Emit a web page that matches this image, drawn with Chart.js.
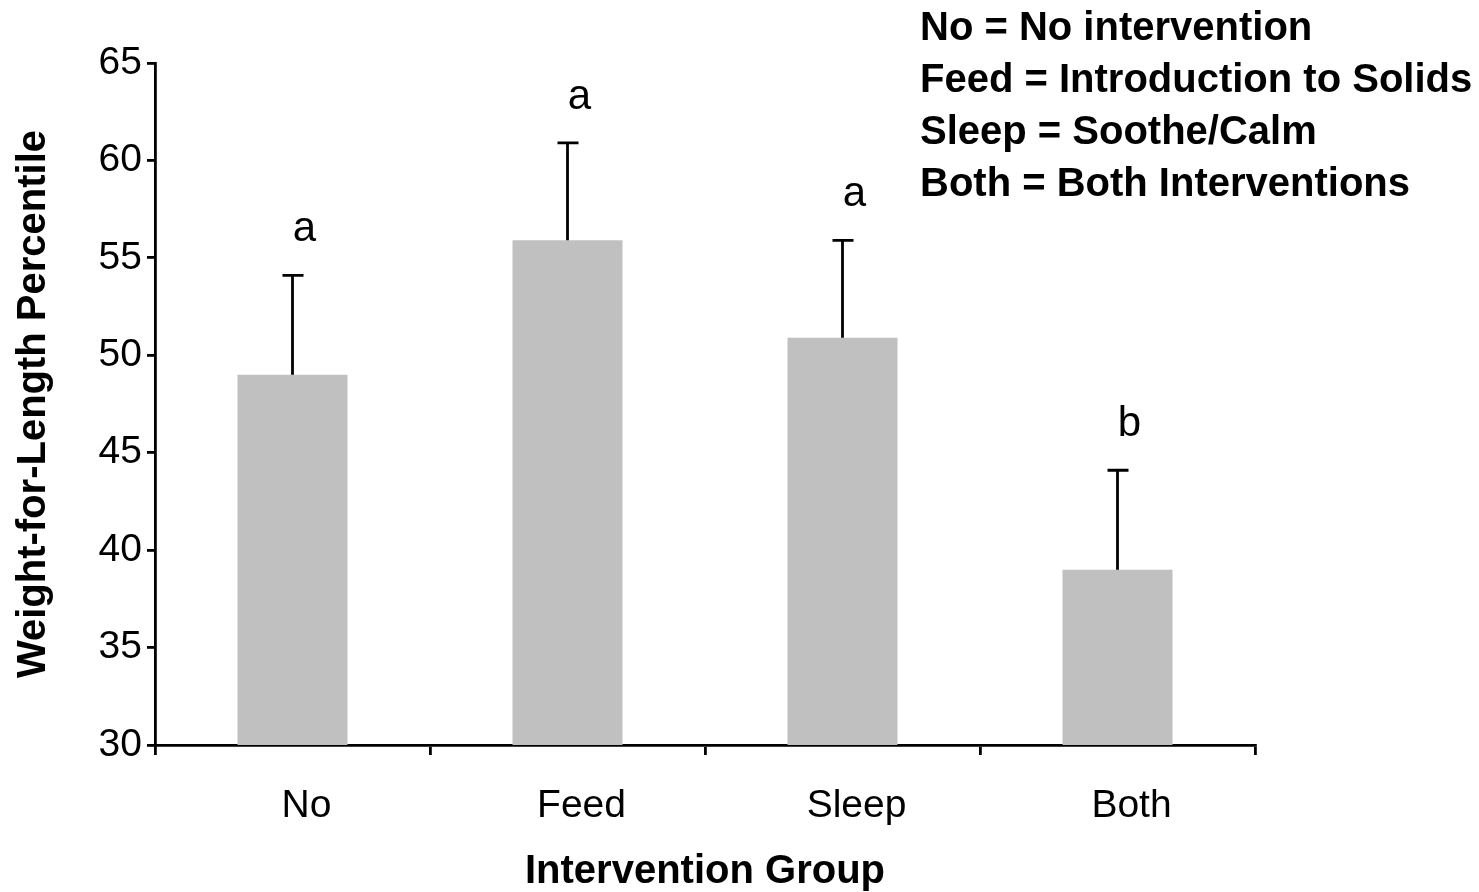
<!DOCTYPE html>
<html>
<head>
<meta charset="utf-8">
<script src="https://cdn.jsdelivr.net/npm/chart.js@4/dist/chart.umd.min.js"></script>
<style>
  html, body { margin: 0; padding: 0; background: #fff; }
  #wrap { width: 1479px; height: 892px; position: relative; }
</style>
</head>
<body>
<div id="wrap"><canvas id="c" width="1479" height="892"></canvas></div>
<script>
const categories = ['No', 'Feed', 'Sleep', 'Both'];
const means = [49.0, 55.9, 50.9, 39.0];
const errors = [5.1, 5.0, 5.0, 5.1];
const letters = ['a', 'a', 'a', 'b'];
const yMin = 30, yMax = 65, yStep = 5;
const legendLines = [
  'No = No intervention',
  'Feed = Introduction to Solids',
  'Sleep = Soothe/Calm',
  'Both = Both Interventions'
];
const FONT = '"Liberation Sans", Arial, Helvetica, sans-serif';

const errorBarPlugin = {
  id: 'errorBars',
  afterDatasetsDraw(chart) {
    const ctx = chart.ctx;
    const meta = chart.getDatasetMeta(0);
    const y = chart.scales.y;
    ctx.save();
    ctx.strokeStyle = '#000';
    ctx.lineWidth = 2.8;
    meta.data.forEach((bar, i) => {
      const top = y.getPixelForValue(means[i] + errors[i]);
      ctx.beginPath();
      ctx.moveTo(bar.x, bar.y);
      ctx.lineTo(bar.x, top);
      ctx.moveTo(bar.x - 10, top);
      ctx.lineTo(bar.x + 11, top);
      ctx.stroke();
      ctx.fillStyle = '#000';
      ctx.font = '42px ' + FONT;
      ctx.textAlign = 'center';
      ctx.textBaseline = 'alphabetic';
      ctx.fillText(letters[i], bar.x + 12, top - 34);
    });
    ctx.restore();
  }
};

const legendTextPlugin = {
  id: 'legendText',
  afterDraw(chart) {
    const ctx = chart.ctx;
    ctx.save();
    ctx.fillStyle = '#000';
    ctx.font = 'bold 40px ' + FONT;
    ctx.textAlign = 'left';
    ctx.textBaseline = 'alphabetic';
    legendLines.forEach((t, i) => ctx.fillText(t, 920, 40 + i * 52));
    ctx.restore();
  }
};

new Chart(document.getElementById('c'), {
  type: 'bar',
  data: {
    labels: categories,
    datasets: [{
      data: means,
      backgroundColor: '#c0c0c0',
      borderWidth: 0,
      barPercentage: 0.4,
      categoryPercentage: 1.0
    }]
  },
  options: {
    responsive: false,
    animation: false,
    events: [],
    layout: { padding: { top: 63, right: 224, bottom: 0, left: 0 } },
    plugins: { legend: { display: false }, tooltip: { enabled: false } },
    scales: {
      x: {
        offset: true,
        afterFit(scale) { scale.height = 147; },
        grid: { display: true, drawOnChartArea: false, drawTicks: true, tickLength: 10, color: '#000', lineWidth: 2.8, offset: true },
        border: { display: true, color: '#000', width: 2.8 },
        ticks: { color: '#000', font: { family: FONT, size: 39 }, padding: 28, labelOffset: 14 },
        title: { display: true, text: 'Intervention Group', color: '#000', font: { family: FONT, size: 40, weight: 'bold', lineHeight: 1 }, padding: { top: 0, bottom: 0 } }
      },
      y: {
        min: yMin, max: yMax,
        afterFit(scale) { scale.width = 155; },
        grid: { display: true, drawOnChartArea: false, drawTicks: true, tickLength: 8, color: '#000', lineWidth: 2.8 },
        border: { display: true, color: '#000', width: 2.8 },
        ticks: { stepSize: yStep, color: '#000', font: { family: FONT, size: 39 }, padding: 5 },
        title: { display: true, text: 'Weight-for-Length Percentile', color: '#000', font: { family: FONT, size: 40, weight: 'bold', lineHeight: 1 }, padding: { top: 14, bottom: 0 } }
      }
    }
  },
  plugins: [errorBarPlugin, legendTextPlugin]
});
</script>
</body>
</html>
